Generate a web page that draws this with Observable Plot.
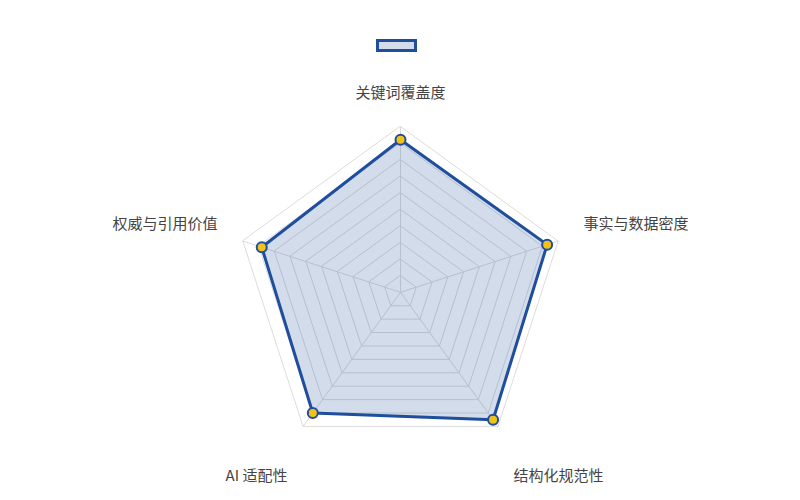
<!DOCTYPE html>
<html>
<head>
<meta charset="utf-8">
<script src="https://cdn.jsdelivr.net/npm/d3@7"></script>
<script src="https://cdn.jsdelivr.net/npm/@observablehq/plot@0.6"></script>
<style>
  body { margin: 0; background: #fff; }
  #wrap { position: relative; width: 800px; height: 500px; }
  #legend { position: absolute; left: 376px; top: 39px; width: 41px; height: 13px; box-sizing: border-box;
            border: 3px solid #1f4e9c; background: #d2dceb; }
</style>
</head>
<body>
<div id="wrap"><div id="legend"></div></div>
<script>
const axes = ["关键词覆盖度", "事实与数据密度", "结构化规范性", "AI 适配性", "权威与引用价值"];
const values = [92, 93, 95, 90, 88];
const maxValue = 100;
const levels = 10;

const n = axes.length;
const ang = i => (i * 2 * Math.PI) / n;
const px = (i, r) => r * Math.sin(ang(i));
const py = (i, r) => r * Math.cos(ang(i));

// grid rings
const grid = [];
for (let l = 1; l <= levels; l++) {
  const r = (maxValue * l) / levels;
  for (let i = 0; i < n; i++) grid.push({ level: l, x: px(i, r), y: py(i, r) });
}
const spokes = axes.map((a, i) => ({ x1: 0, y1: 0, x2: px(i, maxValue), y2: py(i, maxValue) }));
const series = values.map((v, i) => ({ axis: axes[i], x: px(i, v), y: py(i, v) }));

const labR = 116;
const labels = axes.map((a, i) => {
  const s = Math.sin(ang(i)), c = Math.cos(ang(i));
  return {
    name: a, x: px(i, labR), y: py(i, labR),
    anchor: Math.abs(s) < 0.1 ? "middle" : s > 0 ? "start" : "end",
    dy: c > 0.9 ? -7 : c > 0 ? -9 : 28
  };
});
const groups = d3.groups(labels, d => d.anchor + "|" + d.dy);

const k = 1.658; // px per unit
const chart = Plot.plot({
  width: 800, height: 500,
  margin: 0,
  x: { domain: [-400 / k, 400 / k], axis: null },
  y: { domain: [-208.2 / k, 291.8 / k], axis: null },
  style: { fontFamily: "'Noto Sans CJK SC', 'Noto Sans', sans-serif", background: "#fff" },
  marks: [
    Plot.line(grid, { x: "x", y: "y", z: "level", curve: "linear-closed", stroke: "#dcdcdc", strokeWidth: 1 }),
    Plot.link(spokes, { x1: "x1", y1: "y1", x2: "x2", y2: "y2", stroke: "#dcdcdc", strokeWidth: 1 }),
    Plot.line(series, { x: "x", y: "y", curve: "linear-closed", fill: "#1f4e9c", fillOpacity: 0.2, stroke: "#1f4e9c", strokeWidth: 3, strokeLinejoin: "round" }),
    Plot.dot(series, { x: "x", y: "y", r: 5, fill: "#f2c21b", stroke: "#1f4e9c", strokeWidth: 2 }),
    ...groups.map(([key, rows]) =>
      Plot.text(rows, {
        x: "x", y: "y", text: "name", textAnchor: rows[0].anchor, fontSize: 15, fill: "#444",
        dy: rows[0].dy
      })
    )
  ]
});
document.getElementById("wrap").prepend(chart);
</script>
</body>
</html>
